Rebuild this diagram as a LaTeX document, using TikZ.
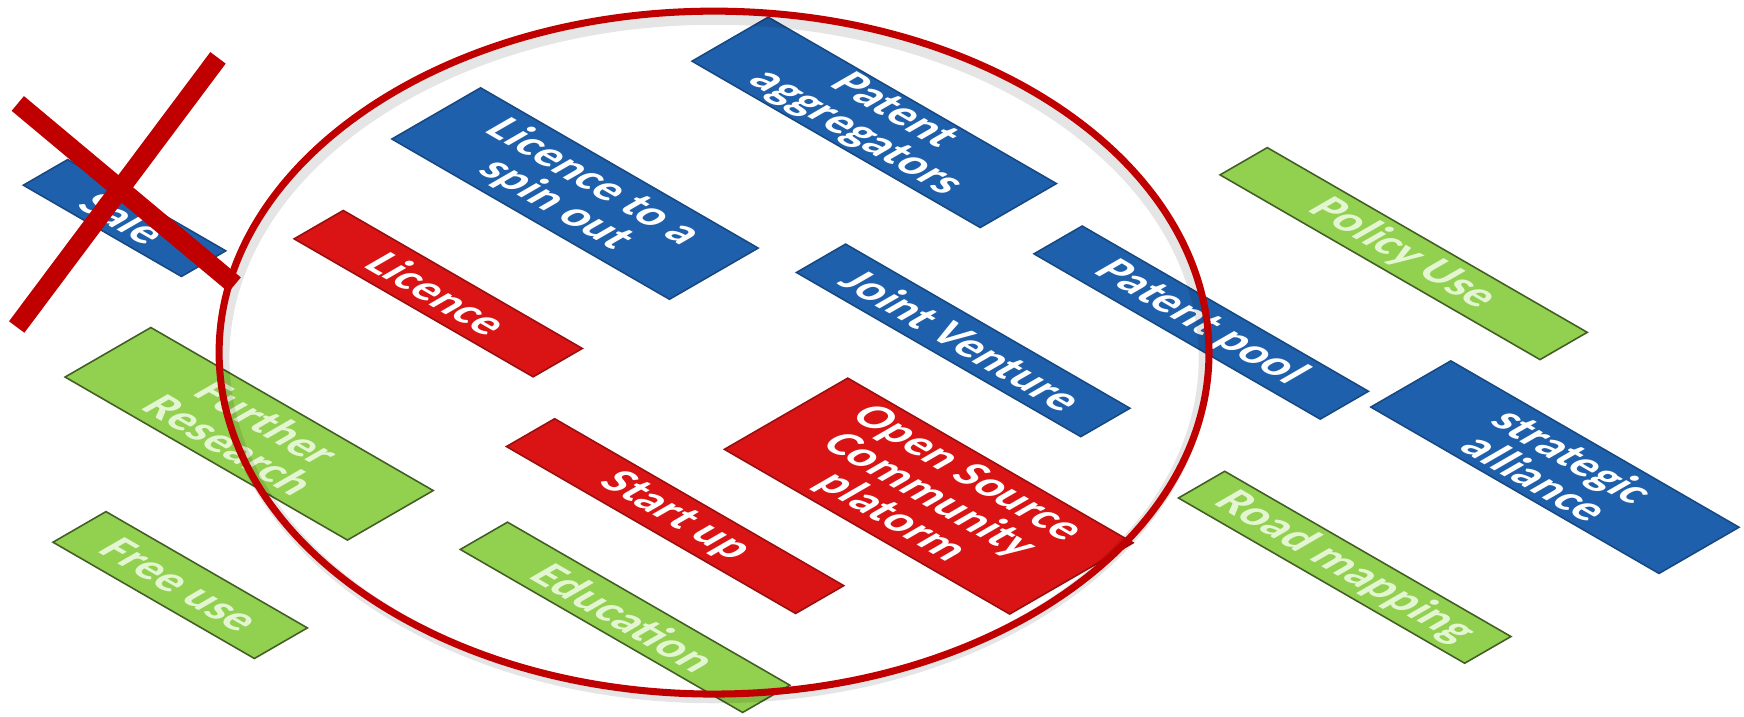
\documentclass[tikz,border=0pt]{standalone}
\usepackage{fontspec}
\setmainfont{Carlito}
\definecolor{boxblue}{HTML}{1F60AC}
\definecolor{boxred}{HTML}{DA1414}
\definecolor{boxgreen}{HTML}{92D050}
\definecolor{ringred}{HTML}{C00000}
\definecolor{greentext}{HTML}{E4F5D2}

\begin{document}
\begin{tikzpicture}[
    x=0.01cm, y=-0.01cm,
    box/.style={draw, thin, cm={0.866,-0.5,0.866,0.5,(0,0)}, inner sep=0pt, align=center,
                text=white, font=\fontsize{12}{11.2}\selectfont\bfseries},
    bluebox/.style={box, fill=boxblue, draw=boxblue!75!black},
    redbox/.style={box, fill=boxred, draw=boxred!70!black},
    greenbox/.style={box, fill=boxgreen, draw=boxgreen!45!black, text=greentext},
    ring/.style={draw=ringred, line width=1.8pt},
    cross/.style={draw=ringred, line width=4.9pt}
]
\useasboundingbox (0,0) rectangle (1568,644);
% Options outside the ring
\node[bluebox, minimum width=1.64cm, minimum height=0.46cm] (sale) at (112,196) {Sale};
\node[greenbox, minimum width=2.93cm, minimum height=0.89cm] (research) at (224,390) {Further\\Research};
\node[greenbox, minimum width=2.09cm, minimum height=0.55cm] (free) at (162,526) {Free use};
\node[greenbox, minimum width=3.32cm, minimum height=0.49cm] (policy) at (1262,228) {Policy Use};
\node[bluebox, minimum width=2.99cm, minimum height=0.83cm] (alliance) at (1398,420) {strategic\\alliance};
\node[greenbox, minimum width=2.97cm, minimum height=0.48cm] (road) at (1209,510) {Road mapping};
% Options inside the ring
\node[bluebox, minimum width=2.88cm, minimum height=0.92cm] (spinout) at (517,174) {Licence to a\\spin out};
\node[bluebox, minimum width=2.99cm, minimum height=0.79cm] (aggreg) at (786,110) {Patent\\aggregators};
\node[redbox, minimum width=2.48cm, minimum height=0.51cm] (licence) at (394,264) {Licence};
\node[bluebox, minimum width=2.95cm, minimum height=0.51cm] (joint) at (866,306) {Joint Venture};
\node[bluebox, minimum width=2.97cm, minimum height=0.50cm] (pool) at (1080,290) {Patent pool};
\node[redbox, minimum width=3.00cm, minimum height=0.50cm] (startup) at (607,464) {Start up};
\node[redbox, minimum width=2.96cm, minimum height=1.28cm] (oss) at (835,446) {Open Source\\Community\\platorm};
\node[greenbox, minimum width=2.93cm, minimum height=0.49cm] (edu) at (562,555) {Education};
% Ring and cross
\draw[black, opacity=0.1, line width=3pt] (642,322) ellipse [x radius=441, y radius=305];
\draw[ring] (642,317) ellipse [x radius=445, y radius=307];
\draw[cross] (16,93) -- (211,256);
\draw[cross] (196,52) -- (15,294);
\end{tikzpicture}
\end{document}
